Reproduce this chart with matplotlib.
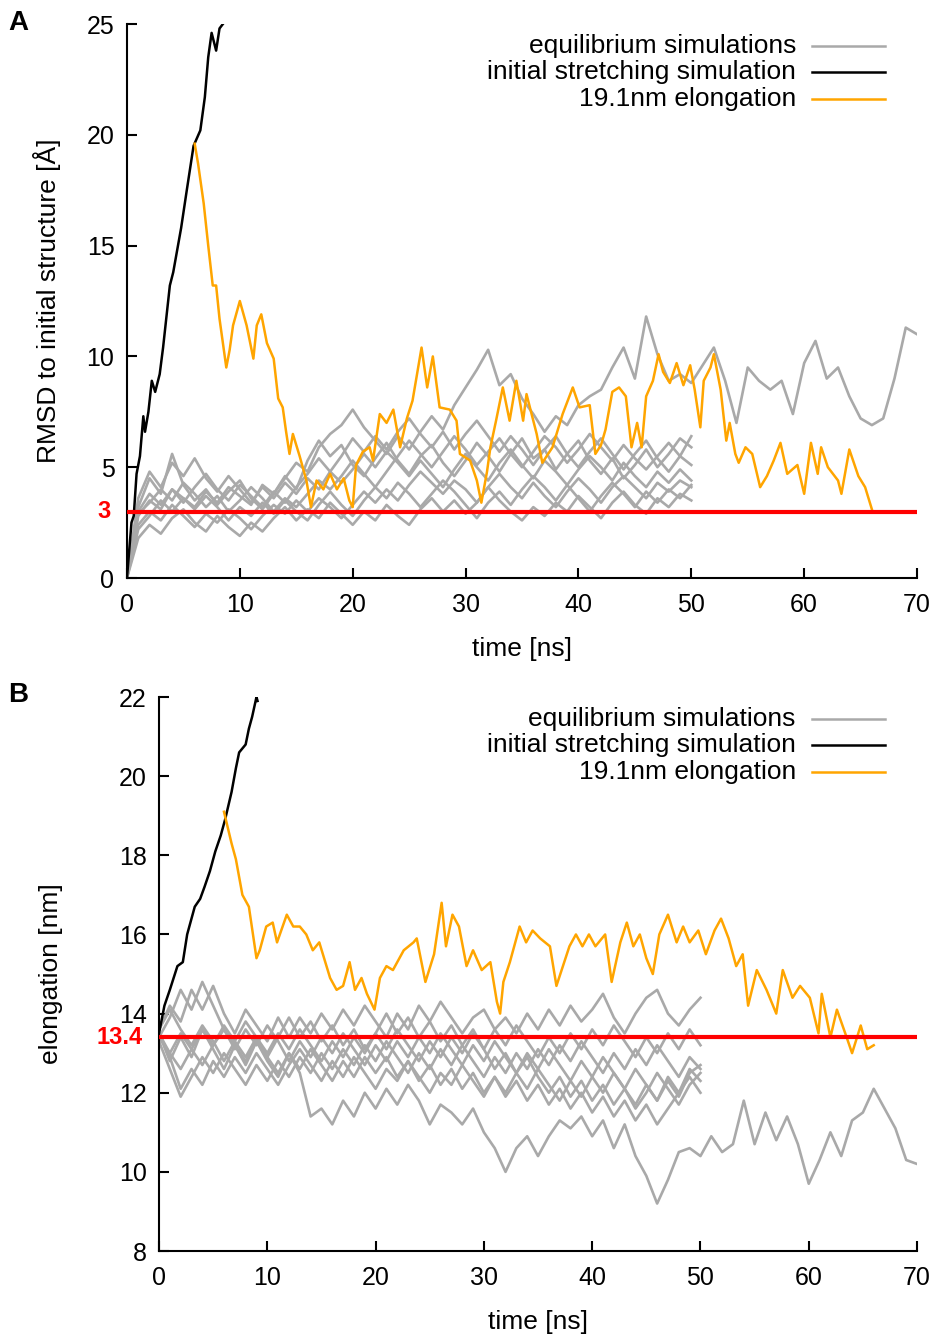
import matplotlib
matplotlib.use("Agg")
import matplotlib.pyplot as plt

plt.rcParams['font.family'] = ['Liberation Sans', 'DejaVu Sans']

GRAY = '#a9a9a9'
ORANGE = '#ffa500'
RED = '#ff0000'

# ---- panel A: RMSD to initial structure [A] ----
t_eq = list(range(0, 51))     # equilibrium runs, 1 ns samples
t_long = list(range(0, 71))   # the one equilibrium run that goes to 70 ns

rmsd_long = [0.0, 2.8, 3.5, 3.1, 4.0, 3.6, 3.2, 3.9, 3.4, 4.1, 3.7, 3.3, 4.2, 3.8, 4.5, 5.2, 4.8, 5.9,
             6.5, 6.9, 7.6, 6.8, 6.2, 5.6, 6.4, 5.8, 6.6, 7.3, 6.7, 7.8, 8.6, 9.4, 10.3, 8.7, 9.2, 8.1,
             7.4, 6.6, 7.3, 6.9, 7.8, 8.2, 8.5, 9.5, 10.4, 9.0, 11.8, 10.1, 8.9, 9.2, 8.8, 9.6, 10.4,
             8.9, 7.0, 9.5, 8.9, 8.5, 8.9, 7.4, 9.7, 10.7, 9.0, 9.5, 8.2, 7.2, 6.9, 7.2, 9.0, 11.3, 11.0]
rmsd_eq1 = [0.0, 3.2, 4.5, 3.8, 5.6, 4.2, 3.5, 4.0, 3.3, 3.9, 4.4, 3.6, 3.1, 3.8, 4.6, 4.0, 5.3, 6.2,
            5.5, 6.0, 5.1, 4.6, 5.4, 6.1, 5.3, 4.7, 5.5, 6.0, 5.2, 4.6, 5.3, 6.1, 5.5, 4.8, 5.6, 6.3,
            5.4, 5.8, 4.9, 5.6, 6.2, 5.3, 4.7, 5.4, 4.5, 5.1, 5.8, 5.0, 5.6, 6.3, 5.9]
rmsd_eq2 = [0.0, 2.4, 3.0, 2.6, 3.3, 2.8, 2.3, 2.9, 2.5, 3.1, 2.7, 2.2, 2.8, 3.3, 2.9, 3.5, 3.0, 3.6,
            3.2, 2.7, 3.3, 3.9, 3.4, 4.0, 3.5, 4.2, 4.8, 4.3, 3.8, 4.4, 4.0, 3.4, 4.1, 4.7, 4.1, 3.6,
            4.3, 3.7, 3.2, 3.9, 4.5, 4.0, 3.4, 4.1, 4.6, 4.1, 3.6, 4.3, 3.9, 4.4, 4.1]
rmsd_eq3 = [0.0, 1.8, 2.4, 2.0, 2.7, 3.1, 2.5, 2.1, 2.8, 2.3, 1.9, 2.5, 2.1, 2.7, 3.2, 2.6, 3.1, 2.7,
            3.4, 2.9, 2.4, 3.0, 2.6, 3.3, 2.8, 2.4, 3.1, 3.6, 3.0, 3.5, 2.9, 3.4, 4.1, 3.5, 3.0, 2.6,
            3.2, 2.8, 3.4, 3.0, 3.7, 3.2, 2.7, 3.4, 3.9, 3.3, 2.9, 3.6, 3.2, 3.8, 3.5]
rmsd_eq4 = [0.0, 3.6, 4.8, 4.1, 5.2, 4.6, 5.4, 4.5, 3.9, 4.6, 4.0, 3.4, 4.1, 3.6, 4.3, 3.8, 4.5, 4.0,
            4.8, 4.3, 4.9, 5.6, 5.0, 5.7, 5.2, 4.6, 5.3, 4.7, 4.1, 4.9, 5.6, 5.0, 4.4, 5.2, 5.8, 5.1,
            4.5, 5.3, 4.8, 4.2, 4.9, 5.5, 5.0, 4.4, 5.2, 4.6, 4.1, 4.8, 4.3, 4.9, 4.4]
rmsd_eq5 = [0.0, 2.9, 3.4, 4.0, 3.5, 4.3, 3.8, 3.2, 3.7, 3.0, 3.5, 4.1, 3.6, 3.0, 3.6, 3.2, 3.8, 4.4,
            4.0, 4.6, 5.3, 4.7, 4.1, 4.8, 5.5, 6.2, 5.6, 5.0, 5.7, 6.4, 5.8, 5.1, 5.7, 6.3, 5.6, 5.0,
            5.7, 6.4, 5.9, 5.2, 5.8, 6.5, 5.9, 5.3, 6.0, 5.4, 4.9, 5.5, 6.1, 5.5, 6.4]
rmsd_eq6 = [0.0, 2.2, 2.8, 3.5, 3.0, 3.6, 3.1, 3.7, 3.2, 2.6, 3.2, 2.8, 3.4, 2.9, 3.5, 3.0, 2.6, 3.3,
            3.9, 3.3, 2.8, 3.5, 4.1, 3.6, 4.3, 3.8, 3.2, 3.8, 4.4, 3.9, 3.3, 2.7, 3.4, 3.9, 3.3, 4.0,
            4.6, 4.1, 3.5, 4.2, 3.6, 3.0, 3.7, 4.3, 3.8, 3.2, 3.9, 3.4, 4.0, 3.6, 4.2]
rmsd_eq7 = [0.0, 3.0, 3.8, 3.3, 4.0, 3.4, 4.1, 4.7, 4.0, 3.5, 4.2, 3.7, 3.2, 3.9, 3.4, 4.1, 4.7, 5.4,
            4.8, 5.5, 6.3, 5.7, 6.4, 5.8, 6.6, 7.2, 6.5, 5.9, 6.6, 5.8, 6.5, 7.1, 6.4, 5.7, 6.4, 5.8,
            5.1, 5.8, 6.4, 5.6, 5.0, 5.7, 6.3, 5.6, 4.9, 5.6, 6.2, 5.4, 4.8, 5.5, 5.1]

t_stretch_a = [0.0, 0.4, 0.6, 0.85, 1.15, 1.45, 1.6, 1.9, 2.2, 2.5, 2.9, 3.2, 3.8, 4.1, 4.8, 5.3, 5.9,
               6.5, 6.9, 7.2, 7.5, 7.9, 8.2, 8.5]
rmsd_stretch = [0.0, 2.5, 2.8, 4.7, 5.5, 7.3, 6.6, 7.5, 8.9, 8.4, 9.2, 10.4, 13.2, 13.8, 15.8, 17.5,
                19.5, 20.2, 21.7, 23.5, 24.6, 23.8, 24.8, 25.0]

t_elong_a = [6.0, 6.3, 6.8, 7.2, 7.6, 7.9, 8.2, 8.8, 9.1, 9.4, 10.0, 10.6, 11.2, 11.5, 11.9, 12.4, 13.0,
             13.4, 13.8, 14.1, 14.4, 14.7, 15.3, 15.9, 16.3, 16.8, 17.4, 18.0, 18.6, 19.2, 19.7, 20.0,
             20.3, 20.9, 21.5, 21.8, 22.4, 23.0, 23.6, 24.2, 24.8, 25.3, 25.6, 26.1, 26.6, 27.1, 27.7,
             28.6, 29.2, 29.5, 30.4, 31.0, 31.4, 31.9, 32.2, 32.7, 33.3, 33.9, 34.5, 35.1, 35.4, 36.3,
             36.8, 37.7, 38.6, 39.5, 40.1, 41.0, 41.5, 42.0, 42.4, 43.0, 43.6, 44.2, 44.7, 45.2, 45.6,
             46.0, 46.6, 47.1, 47.5, 48.1, 48.7, 49.3, 49.9, 50.3, 50.8, 51.1, 51.7, 52.0, 52.6, 53.1,
             53.4, 53.9, 54.2, 54.8, 55.4, 56.1, 56.7, 57.3, 57.9, 58.5, 59.4, 60.0, 60.6, 61.2, 61.5,
             62.1, 63.0, 63.3, 64.0, 64.8, 65.4, 66.0]
rmsd_elong = [19.6, 18.7, 16.9, 15.0, 13.2, 13.2, 11.7, 9.5, 10.3, 11.4, 12.5, 11.4, 9.9, 11.4, 11.9,
              10.6, 9.9, 8.1, 7.7, 6.6, 5.6, 6.5, 5.5, 4.4, 3.2, 4.4, 4.0, 4.7, 4.0, 4.5, 3.5, 3.2, 5.1,
              5.7, 5.9, 5.3, 7.4, 7.0, 7.6, 5.9, 7.2, 8.0, 8.9, 10.4, 8.6, 10.0, 7.7, 7.6, 7.1, 5.6, 5.3,
              4.4, 3.4, 4.8, 5.9, 7.1, 8.6, 7.1, 8.9, 7.1, 8.3, 6.5, 5.2, 5.9, 7.4, 8.6, 7.7, 7.8, 5.6,
              6.0, 6.7, 8.4, 8.6, 8.2, 5.9, 7.0, 5.9, 8.2, 8.9, 10.1, 9.3, 8.8, 9.7, 8.7, 9.6, 8.5, 6.8,
              8.9, 9.5, 10.1, 8.5, 6.2, 7.0, 5.6, 5.2, 5.9, 5.6, 4.1, 4.6, 5.3, 6.1, 4.7, 5.1, 3.8, 6.1,
              4.7, 5.9, 5.0, 4.4, 3.8, 5.8, 4.6, 4.1, 3.1]

# ---- panel B: elongation [nm] ----
elong_long = [13.5, 12.8, 13.4, 12.9, 13.6, 13.1, 12.6, 13.2, 12.7, 13.3, 12.8, 12.4, 13.0, 12.5, 11.4,
              11.6, 11.2, 11.8, 11.4, 12.0, 11.6, 12.1, 11.7, 12.2, 11.8, 11.2, 11.7, 11.5, 11.2, 11.6,
              11.0, 10.6, 10.0, 10.6, 10.9, 10.4, 10.9, 11.3, 11.1, 11.4, 10.9, 11.3, 10.6, 11.2, 10.4,
              9.9, 9.2, 9.8, 10.5, 10.6, 10.4, 10.9, 10.5, 10.7, 11.8, 10.7, 11.5, 10.8, 11.4, 10.7,
              9.7, 10.3, 11.0, 10.4, 11.3, 11.5, 12.1, 11.6, 11.1, 10.3, 10.2]
elong_eq1 = [13.6, 14.2, 13.8, 14.6, 14.1, 14.7, 14.0, 13.5, 14.1, 13.7, 13.3, 13.9, 13.4, 13.9, 13.5,
             14.0, 13.6, 14.1, 13.7, 14.2, 13.8, 13.4, 14.0, 13.6, 14.2, 13.8, 14.3, 13.9, 13.5, 13.9,
             14.1, 13.6, 13.9, 13.5, 14.0, 13.6, 14.1, 13.7, 14.2, 13.8, 14.1, 14.5, 13.9, 13.5, 14.0,
             14.4, 14.6, 14.0, 13.7, 14.1, 14.4]
elong_eq2 = [13.5, 12.9, 12.1, 12.6, 12.2, 12.8, 12.4, 12.9, 12.5, 13.0, 12.6, 12.2, 12.7, 13.1, 12.7,
             12.3, 12.8, 12.4, 12.9, 12.5, 12.1, 12.6, 12.3, 12.8, 12.4, 12.0, 12.5, 12.2, 12.7, 12.3,
             11.9, 12.4, 12.0, 12.5, 12.1, 12.6, 12.2, 11.8, 12.3, 11.9, 12.4, 12.0, 12.5, 12.1, 11.7,
             12.2, 11.8, 12.4, 12.0, 12.6, 12.3]
elong_eq3 = [13.4, 13.9, 14.6, 14.1, 14.8, 14.2, 13.6, 13.1, 13.6, 13.2, 13.7, 13.3, 12.8, 13.3, 12.9,
             13.4, 13.0, 13.5, 13.1, 12.7, 13.2, 12.8, 13.3, 12.9, 13.4, 13.0, 13.5, 13.1, 12.7, 13.2,
             12.8, 13.3, 12.9, 12.5, 13.0, 12.6, 13.1, 12.7, 12.3, 12.8, 12.4, 12.9, 12.5, 12.1, 12.6,
             12.2, 11.8, 12.3, 11.9, 12.5, 12.7]
elong_eq4 = [13.5, 13.0, 13.5, 13.1, 13.6, 13.2, 13.7, 13.3, 13.8, 13.4, 13.0, 13.5, 13.1, 13.6, 13.2,
             12.8, 13.3, 12.9, 13.4, 13.0, 13.5, 13.1, 13.6, 13.2, 12.8, 13.3, 12.9, 13.4, 13.0, 13.5,
             13.1, 13.6, 13.2, 13.7, 13.3, 12.9, 13.4, 13.0, 13.5, 13.1, 13.6, 13.2, 13.7, 13.3, 12.9,
             13.4, 13.0, 13.5, 13.1, 13.6, 13.2]
elong_eq5 = [13.3, 12.6, 11.9, 12.4, 12.9, 12.5, 13.0, 12.6, 12.2, 12.7, 12.3, 12.8, 12.4, 12.9, 12.5,
             13.0, 12.6, 13.1, 12.7, 13.2, 12.8, 13.3, 12.9, 12.5, 13.0, 12.6, 13.1, 12.7, 13.2, 12.8,
             12.4, 12.9, 12.5, 13.0, 12.6, 13.1, 12.7, 13.2, 12.8, 13.3, 12.9, 12.5, 13.0, 12.6, 13.1,
             12.7, 13.2, 12.8, 12.4, 12.9, 12.6]
elong_eq6 = [13.6, 14.1, 13.6, 13.2, 13.7, 13.3, 12.8, 13.3, 12.9, 13.4, 12.9, 13.4, 13.9, 13.4, 13.8,
             13.3, 13.7, 13.2, 13.6, 13.1, 13.5, 14.0, 13.5, 13.9, 13.4, 13.8, 13.3, 13.7, 13.2, 13.6,
             13.1, 12.6, 13.0, 12.5, 12.9, 12.4, 12.0, 12.4, 11.9, 12.3, 11.8, 12.2, 11.7, 12.1, 11.6,
             12.0, 12.5, 12.1, 11.7, 12.2, 12.5]
elong_eq7 = [13.4, 13.0, 12.6, 13.1, 12.7, 13.2, 13.6, 13.2, 12.8, 13.3, 12.9, 12.5, 13.0, 12.6, 13.1,
             12.7, 12.3, 12.8, 12.4, 12.9, 12.5, 12.9, 12.4, 12.8, 12.3, 12.7, 12.2, 12.6, 12.1, 12.5,
             12.0, 12.4, 11.9, 12.3, 11.8, 12.2, 11.7, 12.1, 11.6, 12.0, 11.5, 11.9, 11.4, 11.8, 11.3,
             11.7, 11.2, 11.6, 12.0, 12.4, 12.0]

t_stretch_b = [0.0, 0.5, 1.0, 1.7, 2.2, 2.6, 3.3, 3.8, 4.2, 4.7, 5.2, 5.7, 6.1, 6.7, 7.1, 7.4, 8.0, 8.3,
               8.6, 9.0, 9.1]
elong_stretch = [13.5, 14.2, 14.6, 15.2, 15.3, 16.0, 16.7, 16.9, 17.2, 17.6, 18.1, 18.5, 18.9, 19.6,
                 20.2, 20.6, 20.8, 21.2, 21.5, 22.0, 21.9]

t_elong_b = [6.0, 6.7, 7.1, 7.7, 8.3, 9.0, 9.3, 9.9, 10.5, 10.9, 11.8, 12.4, 13.0, 13.6, 14.2, 14.8, 15.8,
             16.4, 17.0, 17.6, 18.1, 18.7, 19.2, 19.9, 20.4, 21.0, 21.6, 22.6, 23.5, 23.8, 24.6, 25.4,
             26.1, 26.5, 27.1, 27.7, 28.4, 29.0, 29.8, 30.6, 31.2, 31.5, 31.8, 32.4, 33.3, 33.9, 34.5,
             35.2, 36.1, 36.7, 37.3, 37.9, 38.5, 39.1, 39.7, 40.3, 41.2, 41.8, 42.6, 43.2, 43.8, 44.4,
             45.0, 45.6, 46.2, 47.0, 47.8, 48.4, 49.0, 49.8, 50.5, 51.3, 51.9, 52.6, 53.3, 53.9, 54.4,
             55.2, 56.1, 57.0, 57.6, 58.5, 59.2, 60.1, 60.9, 61.2, 62.0, 62.6, 63.5, 64.0, 64.8, 65.4,
             66.0]
elong_elong = [19.1, 18.3, 17.9, 17.0, 16.7, 15.4, 15.6, 16.2, 16.3, 15.8, 16.5, 16.2, 16.2, 16.0,
               15.6, 15.8, 14.9, 14.6, 14.7, 15.3, 14.6, 14.9, 14.5, 14.1, 14.9, 15.2, 15.1, 15.6,
               15.8, 15.9, 14.8, 15.5, 16.8, 15.7, 16.5, 16.2, 15.2, 15.6, 15.1, 15.3, 14.3, 14.0,
               14.8, 15.3, 16.2, 15.8, 16.1, 15.9, 15.7, 14.7, 15.2, 15.7, 16.0, 15.7, 16.0, 15.7,
               16.0, 14.8, 15.8, 16.3, 15.7, 16.0, 15.4, 15.0, 16.0, 16.5, 15.8, 16.2, 15.8, 16.1,
               15.5, 16.1, 16.4, 15.9, 15.2, 15.5, 14.2, 15.1, 14.6, 14.0, 15.1, 14.4, 14.7, 14.4,
               13.5, 14.5, 13.4, 14.1, 13.4, 13.0, 13.7, 13.1, 13.2]

legend_labels = ['equilibrium simulations', 'initial stretching simulation', '19.1nm elongation']

FS = 19


def style_axis(ax, ymin, ymax, yticks, ref, ref_label, ylabel, ylabel_x):
    ax.set_xlim(0, 70)
    ax.set_ylim(ymin, ymax)
    ax.set_xticks(range(0, 71, 10))
    ax.set_yticks(yticks)
    for side in ('top', 'right'):
        ax.spines[side].set_visible(False)
    for side in ('left', 'bottom'):
        ax.spines[side].set_linewidth(1.5)
    ax.tick_params(direction='in', length=7, width=1.5, labelsize=18)
    ax.tick_params(axis='x', pad=11)
    ax.tick_params(axis='y', pad=9)
    ax.axhline(ref, color=RED, lw=3, zorder=5)
    # reference value written in red next to the axis
    ax.text(-0.021, ref, ref_label, transform=ax.get_yaxis_transform(), color=RED,
            fontsize=17, fontweight='bold', ha='right', va='top')
    ax.set_xlabel('time [ns]', fontsize=FS, labelpad=14)
    ax.set_ylabel(ylabel, fontsize=FS)
    ax.yaxis.set_label_coords(ylabel_x, 0.5)


def draw_legend(ax, x_text, x0, x1):
    colors = [GRAY, 'black', ORANGE]
    for y, lab, c in zip([0.960, 0.913, 0.865], legend_labels, colors):
        ax.text(x_text, y, lab, transform=ax.transAxes, fontsize=FS, ha='right', va='center')
        ax.plot([x0, x1], [y, y], transform=ax.transAxes, color=c, lw=1.8, clip_on=False)


fig = plt.figure(figsize=(9.37, 13.34), dpi=100)
ax1 = fig.add_axes([0.1355, 0.5667, 0.8432, 0.4153])
ax2 = fig.add_axes([0.1697, 0.0622, 0.8090, 0.4153])

# panel A
for vals in [rmsd_eq1, rmsd_eq2, rmsd_eq3, rmsd_eq4, rmsd_eq5, rmsd_eq6, rmsd_eq7]:
    ax1.plot(t_eq, vals, color=GRAY, lw=1.9)
ax1.plot(t_long, rmsd_long, color=GRAY, lw=1.9)
ax1.plot(t_stretch_a, rmsd_stretch, color='black', lw=1.8, zorder=3)
ax1.plot(t_elong_a, rmsd_elong, color=ORANGE, lw=1.8, zorder=4)
style_axis(ax1, 0, 25, range(0, 26, 5), 3, '3', 'RMSD to initial structure [Å]', -0.084)
draw_legend(ax1, 0.847, 0.867, 0.959)

# panel B
for vals in [elong_eq1, elong_eq2, elong_eq3, elong_eq4, elong_eq5, elong_eq6, elong_eq7]:
    ax2.plot(t_eq, vals, color=GRAY, lw=1.9)
ax2.plot(t_long, elong_long, color=GRAY, lw=1.9)
ax2.plot(t_stretch_b, elong_stretch, color='black', lw=1.8, zorder=3)
ax2.plot(t_elong_b, elong_elong, color=ORANGE, lw=1.8, zorder=4)
style_axis(ax2, 8, 22, range(8, 23, 2), 13.4, '13.4', 'elongation [nm]', -0.127)
draw_legend(ax2, 0.840, 0.861, 0.958)

# nudge the red labels so they sit centred on the line but clear of the tick labels
for ax in (ax1, ax2):
    ax.texts[0].set_va('center')

fig.text(0.009, 0.983, 'A', fontsize=20, fontweight='bold', ha='left', va='center')
fig.text(0.009, 0.479, 'B', fontsize=20, fontweight='bold', ha='left', va='center')

fig.savefig('out.png', dpi=100)
